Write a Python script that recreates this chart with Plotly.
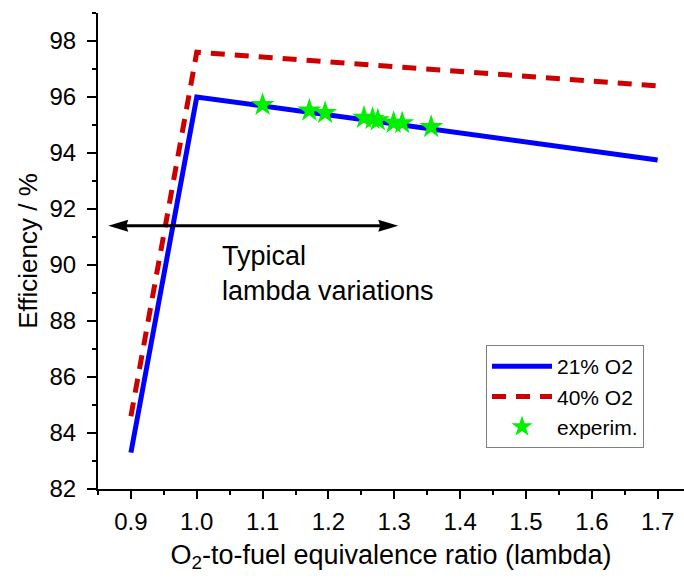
import plotly.graph_objects as go

# Efficiency vs. O2-to-fuel equivalence ratio
lam_model = [0.9, 1.0, 1.7]
eff_21 = [83.3, 96.0, 93.75]
eff_40 = [84.6, 97.6, 96.4]

lam_exp = [1.100, 1.171, 1.195, 1.254, 1.267, 1.275, 1.299, 1.312, 1.356]
eff_exp = [95.72, 95.52, 95.43, 95.26, 95.22, 95.17, 95.08, 95.07, 94.93]

# span of "typical lambda variations" and its arrow height
arrow_lam = [0.8656, 1.306]
arrow_eff = 91.40

X_RANGE = [0.85, 1.74]
Y_RANGE = [82, 99]

W, H = 684, 578
M = dict(l=98, r=0, t=13, b=89)
plot_w = W - M["l"] - M["r"]
plot_h = H - M["t"] - M["b"]
dx_px = (X_RANGE[1] - X_RANGE[0]) / plot_w
dy_px = (Y_RANGE[1] - Y_RANGE[0]) / plot_h

FONT = "Arial, 'Liberation Sans', sans-serif"

fig = go.Figure()
fig.add_trace(go.Scatter(
    x=lam_model, y=eff_40, mode="lines", name="40% O2", legendrank=2,
    line=dict(color="#CC0000", width=5, dash="14px,10px"),
))
fig.add_trace(go.Scatter(
    x=lam_model, y=eff_21, mode="lines", name="21% O2", legendrank=1,
    line=dict(color="#0000FF", width=5),
))
fig.add_trace(go.Scatter(
    x=lam_exp, y=eff_exp, mode="markers", name="experim.", legendrank=3,
    marker=dict(symbol="star", size=18, color="#00F000", line=dict(width=0)),
))

# double-headed arrow: shaft plus two filled heads
head_len = 20 * dx_px
head_half = 6 * dy_px
notch = 2 * dx_px
x_l, x_r = arrow_lam
shapes = [
    dict(type="line", xref="x", yref="y", x0=x_l + head_len * 0.8, x1=x_r - head_len * 0.8,
         y0=arrow_eff, y1=arrow_eff, line=dict(color="black", width=3)),
    dict(type="path", xref="x", yref="y", fillcolor="black", line=dict(width=0),
         path=(f"M{x_l},{arrow_eff} L{x_l + head_len},{arrow_eff + head_half} "
               f"L{x_l + head_len - notch},{arrow_eff} L{x_l + head_len},{arrow_eff - head_half} Z")),
    dict(type="path", xref="x", yref="y", fillcolor="black", line=dict(width=0),
         path=(f"M{x_r},{arrow_eff} L{x_r - head_len},{arrow_eff + head_half} "
               f"L{x_r - head_len + notch},{arrow_eff} L{x_r - head_len},{arrow_eff - head_half} Z")),
]

fig.add_annotation(
    x=1.035, y=89.7, xref="x", yref="y", xanchor="left", yanchor="middle",
    text="Typical<br>lambda variations", align="left", showarrow=False,
    font=dict(family=FONT, size=27, color="black"),
)

axis_common = dict(linecolor="black", linewidth=2, showgrid=False,
                   zeroline=False, tickcolor="black", tickwidth=2)

fig.update_layout(
    width=W, height=H, margin=M,
    paper_bgcolor="white", plot_bgcolor="white",
    font=dict(family=FONT, size=24, color="black"),
    shapes=shapes,
    showlegend=True,
    legend=dict(
        x=(486 - M["l"]) / plot_w, y=(H - M["b"] - 345) / plot_h,
        xanchor="left", yanchor="top",
        bgcolor="white", bordercolor="#808080", borderwidth=1,
        font=dict(family=FONT, size=21, color="black"),
        itemwidth=60, tracegroupgap=0,
    ),
    xaxis=dict(
        **axis_common, showline=True, range=X_RANGE, tick0=0.9, dtick=0.1, tickformat=".1f",
        ticks="outside", ticklen=8, ticklabelstandoff=2,
        minor=dict(dtick=0.05, ticks="outside", ticklen=4, tickwidth=2, tickcolor="black"),
        title=dict(text="O<sub>2</sub>-to-fuel equivalence ratio (lambda)",
                   font=dict(size=27), standoff=11),
    ),
    yaxis=dict(
        **axis_common, showline=True, range=Y_RANGE, tick0=82, dtick=2,
        ticks="outside", ticklen=9, ticklabelstandoff=6,
        minor=dict(dtick=1, ticks="outside", ticklen=4, tickwidth=2, tickcolor="black"),
        title=dict(text="Efficiency / %", font=dict(size=26), standoff=4),
    ),
    xaxis2=dict(
        **axis_common, showline=True, range=X_RANGE, overlaying="x", side="top", anchor="y",
        tick0=0.9, dtick=0.1, ticks="inside", ticklen=8, showticklabels=False,
    ),
    yaxis2=dict(
        **axis_common, showline=False, range=Y_RANGE, overlaying="y", side="right", anchor="x",
        tick0=82, dtick=2, ticks="inside", ticklen=4, showticklabels=False,
    ),
)

fig.write_html("out.html")
